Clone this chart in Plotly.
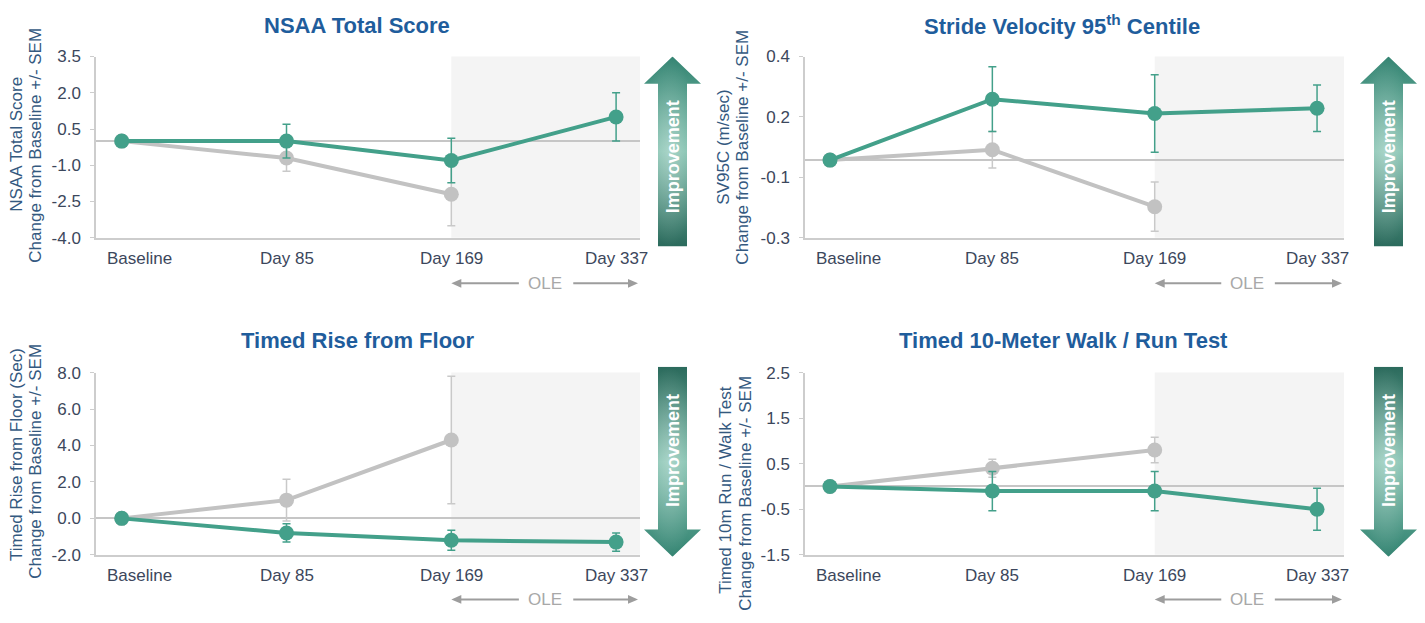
import base64
import numpy as np
import plotly.graph_objects as go

W, H = 1425, 623
FONT = "Liberation Sans, Arial, Helvetica, sans-serif"

# ---- data -------------------------------------------------------------
visits = ["Baseline", "Day 85", "Day 169", "Day 337"]

nsaa_active = [0.0, 0.0, -0.8, 1.0]
nsaa_active_sem = [0.0, 0.7, 0.92, 1.0]
nsaa_placebo = [0.0, -0.7, -2.2]
nsaa_placebo_sem = [0.0, 0.55, 1.3]

sv95c_active = [0.0, 0.235, 0.18, 0.2]
sv95c_active_sem = [0.0, 0.125, 0.15, 0.09]
sv95c_placebo = [0.0, 0.04, -0.18]
sv95c_placebo_sem = [0.0, 0.07, 0.095]

rise_active = [0.0, -0.8, -1.2, -1.3]
rise_active_sem = [0.0, 0.5, 0.55, 0.5]
rise_placebo = [0.0, 1.0, 4.3]
rise_placebo_sem = [0.0, 1.15, 3.5]

walk_active = [0.0, -0.1, -0.1, -0.5]
walk_active_sem = [0.0, 0.43, 0.43, 0.46]
walk_placebo = [0.0, 0.4, 0.8]
walk_placebo_sem = [0.0, 0.2, 0.28]

nsaa_ticks = [-4.0, -2.5, -1.0, 0.5, 2.0, 3.5]
sv95c_ticks = list(np.linspace(-0.3, 0.4, 4))
sv95c_ticktext = ["-0.3", "-0.1", "0.2", "0.4"]
rise_ticks = [-2.0, 0.0, 2.0, 4.0, 6.0, 8.0]
walk_ticks = [-1.5, -0.5, 0.5, 1.5, 2.5]

# ---- styling ----------------------------------------------------------
TEAL = "#43a08a"
GREY = "#c2c2c2"
GREY_ERR = "#c9c9c9"
AXIS = "#cdcdcd"
TITLE_C = "#1f5d9c"
TICK_C = "#3c475c"
YTITLE_C = "#34597f"
SHADE = "#f4f4f4"
OLE_C = "#9d9d9d"


def px_x(p):
    return p / W


def px_y(p):
    return 1 - p / H


# pixel boxes of each plotting area: (left, right, top, bottom)
COLS = [(96, 640), (805, 1344)]
ROWS = [(49, 236), (375, 563)]
XRANGES = [(-0.156, 3.145), (-0.154, 3.166)]
TITLE_CENTERS = [357, 1062]

panels = [
    dict(title="NSAA Total Score",
         ytitle=("NSAA Total Score", "Change from Baseline +/- SEM"),
         ytitle_pos=((17, 140), (36, 141)),
         active=(nsaa_active, nsaa_active_sem),
         placebo=(nsaa_placebo, nsaa_placebo_sem),
         yrange=(-4.0, 3.5), ticks=nsaa_ticks,
         ticktext=[f"{v:.1f}" for v in nsaa_ticks], up=True, row=0, col=0),
    dict(title="Stride Velocity 95<sup>th</sup> Centile",
         ytitle=("SV95C (m/sec)", "Change from Baseline +/- SEM"),
         ytitle_pos=((724, 142), (743, 143)),
         active=(sv95c_active, sv95c_active_sem),
         placebo=(sv95c_placebo, sv95c_placebo_sem),
         yrange=(-0.3, 0.4), ticks=sv95c_ticks,
         ticktext=sv95c_ticktext, up=True, row=0, col=1),
    dict(title="Timed Rise from Floor",
         ytitle=("Timed Rise from Floor (Sec)", "Change from Baseline +/- SEM"),
         ytitle_pos=((17, 460), (36, 467)),
         active=(rise_active, rise_active_sem),
         placebo=(rise_placebo, rise_placebo_sem),
         yrange=(-2.0, 8.0), ticks=rise_ticks,
         ticktext=[f"{v:.1f}" for v in rise_ticks], up=False, row=1, col=0),
    dict(title="Timed 10-Meter Walk / Run Test",
         ytitle=("Timed 10m Run / Walk Test", "Change from Baseline +/- SEM"),
         ytitle_pos=((726, 497), (746, 500)),
         active=(walk_active, walk_active_sem),
         placebo=(walk_placebo, walk_placebo_sem),
         yrange=(-1.5, 2.5), ticks=walk_ticks,
         ticktext=[f"{v:.1f}" for v in walk_ticks], up=False, row=1, col=1),
]


def arrow_svg(up, w=57, h=196, head=28, shaft=(14, 43)):
    """Gradient filled block arrow, returned as a data URI."""
    s0, s1 = shaft
    if up:
        pts = [(w / 2, 0), (w, head), (s1, head), (s1, h), (s0, h), (s0, head), (0, head)]
        stops = [("0", "#348472"), ("0.5", "#7cbeab"), ("1", "#2b6a5c")]
    else:
        pts = [(s0, 0), (s1, 0), (s1, h - head), (w, h - head), (w / 2, h), (0, h - head), (s0, h - head)]
        stops = [("0", "#2b6a5c"), ("0.5", "#7cbeab"), ("1", "#348472")]
    poly = " ".join(f"{x:.1f},{y:.1f}" for x, y in pts)
    stop_xml = "".join(f'<stop offset="{o}" stop-color="{c}"/>' for o, c in stops)
    svg = (
        f'<svg xmlns="http://www.w3.org/2000/svg" width="{w}" height="{h}" '
        f'viewBox="0 0 {w} {h}" preserveAspectRatio="none">'
        f'<defs><linearGradient id="g" x1="0" y1="0" x2="0" y2="1">{stop_xml}</linearGradient>'
        f'<radialGradient id="r" cx="0.45" cy="0.5" r="0.5">'
        f'<stop offset="0" stop-color="#ffffff" stop-opacity="0.35"/>'
        f'<stop offset="1" stop-color="#ffffff" stop-opacity="0"/></radialGradient></defs>'
        f'<polygon points="{poly}" fill="url(#g)"/>'
        f'<polygon points="{poly}" fill="url(#r)"/></svg>'
    )
    return "data:image/svg+xml;base64," + base64.b64encode(svg.encode()).decode()


fig = go.Figure()
annotations = []
shapes = []
images = []
layout_axes = {}

for k, p in enumerate(panels):
    n = k + 1
    xa = "x" if n == 1 else f"x{n}"
    ya = "y" if n == 1 else f"y{n}"
    left, right = COLS[p["col"]]
    top, bottom = ROWS[p["row"]]
    xr = XRANGES[p["col"]]
    unit = (xr[1] - xr[0]) / (right - left)  # data units per pixel

    layout_axes["xaxis" if n == 1 else f"xaxis{n}"] = dict(
        domain=[px_x(left), px_x(right)], range=list(xr), anchor=ya,
        showgrid=False, zeroline=False, showline=True, linecolor=AXIS,
        linewidth=1.5, showticklabels=False, ticks="", fixedrange=True,
    )
    layout_axes["yaxis" if n == 1 else f"yaxis{n}"] = dict(
        domain=[px_y(bottom), px_y(top)], range=list(p["yrange"]), anchor=xa,
        showgrid=False, zeroline=True, zerolinecolor="#c6c6c6", zerolinewidth=1.5,
        showline=True, linecolor=AXIS, linewidth=1.5,
        tickvals=p["ticks"], ticktext=p["ticktext"], ticks="outside",
        ticklen=4, tickcolor=AXIS, ticklabelstandoff=6,
        tickfont=dict(family=FONT, size=17, color=TICK_C), fixedrange=True,
    )

    # open-label extension shading from Day 169 onward
    shapes.append(dict(type="rect", xref=xa, yref=f"{ya} domain",
                       x0=2, x1=xr[1], y0=0, y1=1, fillcolor=SHADE,
                       line=dict(width=0), layer="below"))

    pv, pe = p["placebo"]
    av, ae = p["active"]
    fig.add_trace(go.Scatter(
        x=list(range(len(pv))), y=pv, mode="lines+markers", xaxis=xa, yaxis=ya,
        line=dict(color=GREY, width=4), marker=dict(color=GREY, size=15),
        error_y=dict(type="data", array=pe, color=GREY_ERR, thickness=1.5, width=4),
        showlegend=False, hoverinfo="skip"))
    fig.add_trace(go.Scatter(
        x=list(range(len(av))), y=av, mode="lines+markers", xaxis=xa, yaxis=ya,
        line=dict(color=TEAL, width=4), marker=dict(color=TEAL, size=15),
        error_y=dict(type="data", array=ae, color=TEAL, thickness=1.5, width=4),
        showlegend=False, hoverinfo="skip"))

    # panel title
    annotations.append(dict(
        text=f"<b>{p['title']}</b>", xref="paper", yref="paper",
        x=px_x(TITLE_CENTERS[p["col"]] + (1 if p["row"] else 0)),
        y=px_y(17 if p["row"] == 0 else 342),
        xanchor="center", yanchor="middle", showarrow=False,
        font=dict(family=FONT, size=22, color=TITLE_C)))

    # two-line vertical axis title
    for line, (tx, ty) in zip(p["ytitle"], p["ytitle_pos"]):
        annotations.append(dict(
            text=line, xref="paper", yref="paper", x=px_x(tx), y=px_y(ty),
            xanchor="center", yanchor="middle", textangle=-90, showarrow=False,
            font=dict(family=FONT, size=17, color=YTITLE_C)))

    # visit labels along the bottom axis
    for i, lab in enumerate(visits):
        annotations.append(dict(
            text=lab, xref=xa, yref="paper", x=i, y=px_y(bottom),
            xanchor="center", yanchor="middle", yshift=-21,
            xshift=18 if i == 0 else 0, showarrow=False,
            font=dict(family=FONT, size=17, color=TICK_C)))

    # OLE span marker: two arrows either side of the label
    oy = px_y(283 if p["row"] == 0 else 609)
    head_len, head_half = 10 * unit, 4.5 / H
    x_left_tip, x_left_tail = 2.0, 2.41
    x_right_tail, x_right_tip = 2.74, xr[1] - 2 * unit
    shapes.append(dict(type="line", xref=xa, yref="paper",
                       x0=x_left_tip + head_len * 0.8, x1=x_left_tail, y0=oy, y1=oy,
                       line=dict(color=OLE_C, width=2)))
    shapes.append(dict(type="line", xref=xa, yref="paper",
                       x0=x_right_tail, x1=x_right_tip - head_len * 0.8, y0=oy, y1=oy,
                       line=dict(color=OLE_C, width=2)))
    for tip, sign in ((x_left_tip, 1), (x_right_tip, -1)):
        base = tip + sign * head_len
        shapes.append(dict(
            type="path", xref=xa, yref="paper",
            path=f"M {tip},{oy} L {base},{oy + head_half} L {base},{oy - head_half} Z",
            fillcolor=OLE_C, line=dict(width=0)))
    annotations.append(dict(
        text="OLE", xref=xa, yref="paper", x=2.57, y=oy, xanchor="center",
        yanchor="middle", showarrow=False,
        font=dict(family=FONT, size=17, color="#a8a8a8")))

    # direction-of-improvement arrow
    ax_left = 644 if p["col"] == 0 else 1360
    a_top = 49 if p["row"] == 0 else 369
    images.append(dict(
        source=arrow_svg(p["up"]), xref="paper", yref="paper",
        x=px_x(ax_left), y=px_y(a_top), sizex=57 / W, sizey=196 / H,
        xanchor="left", yanchor="top", sizing="stretch", layer="above"))
    text_y = 153 if p["up"] else 456
    annotations.append(dict(
        text="<b>Improvement</b>", xref="paper", yref="paper",
        x=px_x(ax_left + 29), y=px_y(text_y), xanchor="center",
        yanchor="middle", textangle=-90, showarrow=False,
        font=dict(family=FONT, size=18, color="#ffffff")))

fig.update_layout(
    width=W, height=H, margin=dict(l=0, r=0, t=0, b=0),
    paper_bgcolor="white", plot_bgcolor="white",
    annotations=annotations, shapes=shapes, images=images,
    showlegend=False, **layout_axes,
)

fig.write_html("out.html")
